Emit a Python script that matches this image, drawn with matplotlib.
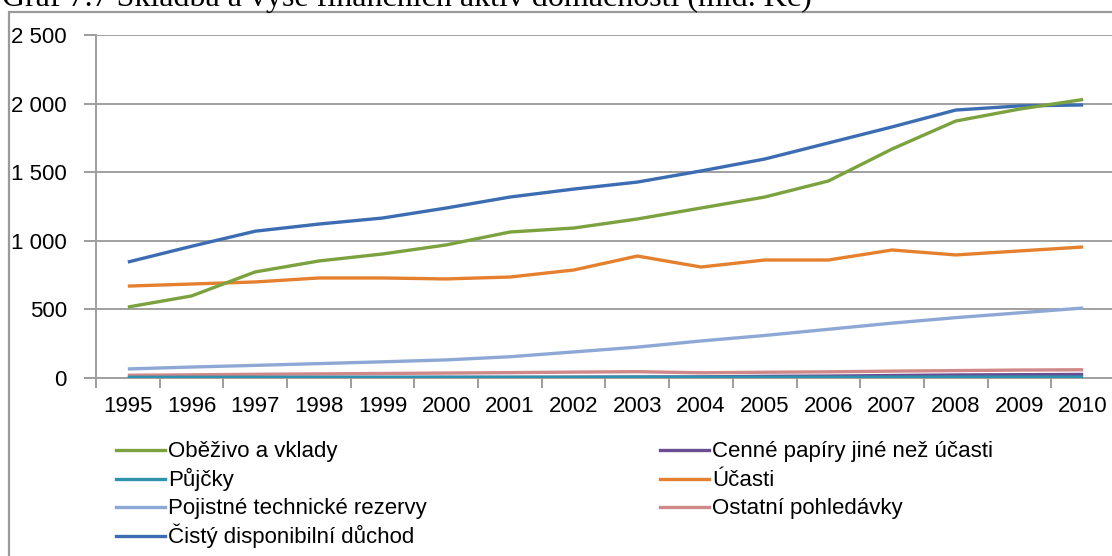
import matplotlib.pyplot as plt
from matplotlib.patches import Rectangle
from matplotlib.lines import Line2D
from matplotlib.ticker import FuncFormatter
import numpy as np

# data (mld. Kč)
years = [str(y) for y in range(1995, 2011)]

obezivo = [517, 598, 773, 853, 904, 970, 1064, 1093, 1159, 1239, 1319, 1436, 1669, 1873, 1960, 2030]
cenne_papiry = [3, 3, 3, 4, 4, 5, 5, 6, 7, 8, 12, 14, 18, 22, 24, 26]
pujcky = [5, 5, 5, 5, 5, 5, 5, 5, 6, 6, 6, 6, 6, 7, 7, 7]
ucasti = [670, 685, 700, 729, 729, 722, 736, 787, 889, 809, 860, 860, 933, 897, 926, 955]
pojistne = [66, 80, 92, 105, 118, 132, 155, 190, 225, 270, 310, 355, 400, 440, 475, 510]
ostatni = [20, 23, 27, 30, 33, 36, 39, 43, 46, 38, 42, 45, 50, 54, 58, 60]
duchod = [845, 960, 1070, 1122, 1166, 1239, 1319, 1377, 1428, 1509, 1596, 1713, 1830, 1953, 1983, 1990]

series = [
    ("Oběživo a vklady", obezivo, "#7BA23F"),
    ("Cenné papíry jiné než účasti", cenne_papiry, "#6A4C93"),
    ("Půjčky", pujcky, "#2F93AE"),
    ("Účasti", ucasti, "#E5802F"),
    ("Pojistné technické rezervy", pojistne, "#8EA8D6"),
    ("Ostatní pohledávky", ostatni, "#D08888"),
    ("Čistý disponibilní důchod", duchod, "#3C6DB2"),
]

plt.rcParams['font.family'] = ['Liberation Sans', 'DejaVu Sans']

W, H = 1112, 556
fig = plt.figure(figsize=(W / 100, H / 100), dpi=100, facecolor='white')

# outer chart frame
fig.patches.append(Rectangle((9 / W, -0.05), 1.1, 1 - 12 / H + 0.05,
                             transform=fig.transFigure, fill=False,
                             edgecolor='#9A9A9A', linewidth=1.6))

# cut-off caption at the top
fig.text(2 / W, 1 - 6 / H, "Graf 7.7 Skladba a výše finančních aktiv domácností (mld. Kč)",
         family='Liberation Serif', fontsize=23, va='baseline', ha='left')

ax = fig.add_axes([96 / W, (H - 378) / H, (1115 - 96) / W, (378 - 35) / H])
x = np.arange(len(years))
order = [6, 4, 5, 3, 0, 1, 2]
for i in order:
    name, vals, col = series[i]
    ax.plot(x, vals, color=col, linewidth=2.4, solid_capstyle='butt', zorder=3)

ax.set_xlim(-0.5, len(years) - 0.5)
ax.set_ylim(0, 2500)
ax.set_yticks(range(0, 2501, 500))
ax.yaxis.set_major_formatter(FuncFormatter(lambda v, p: f"{int(v):,}".replace(",", " ")))
ax.set_xticks(x)
ax.set_xticklabels(years)
ax.set_xticks(np.arange(-0.5, len(years), 1.0), minor=True)
ax.tick_params(axis='x', which='major', length=0, labelsize=16, pad=13)
ax.tick_params(axis='x', which='minor', length=7, color='#8C8C8C', width=1.2)
ax.tick_params(axis='y', length=9, color='#8C8C8C', width=1.2, labelsize=16, pad=12)
ax.grid(axis='y', color='#A0A0A0', linewidth=1.4)
for s in ['top', 'right']:
    ax.spines[s].set_visible(False)
for s in ['left', 'bottom']:
    ax.spines[s].set_color('#A0A0A0')
    ax.spines[s].set_linewidth(1.4)

# legend in two columns under the chart, fixed row positions
rows_y = [450, 479, 507, 536]
left_idx = [0, 2, 4, 6]
right_idx = [1, 3, 5]
for col_idx, x0 in [(left_idx, 116), (right_idx, 660)]:
    for r, i in enumerate(col_idx):
        name, _, c = series[i]
        yy = 1 - rows_y[r] / H
        fig.add_artist(Line2D([x0 / W, (x0 + 49) / W], [yy, yy], color=c,
                              linewidth=2.4, transform=fig.transFigure))
        fig.text((x0 + 52) / W, 1 - (rows_y[r] + 7) / H, name, fontsize=16,
                 va='baseline', ha='left')

fig.savefig('out.png', dpi=100)
